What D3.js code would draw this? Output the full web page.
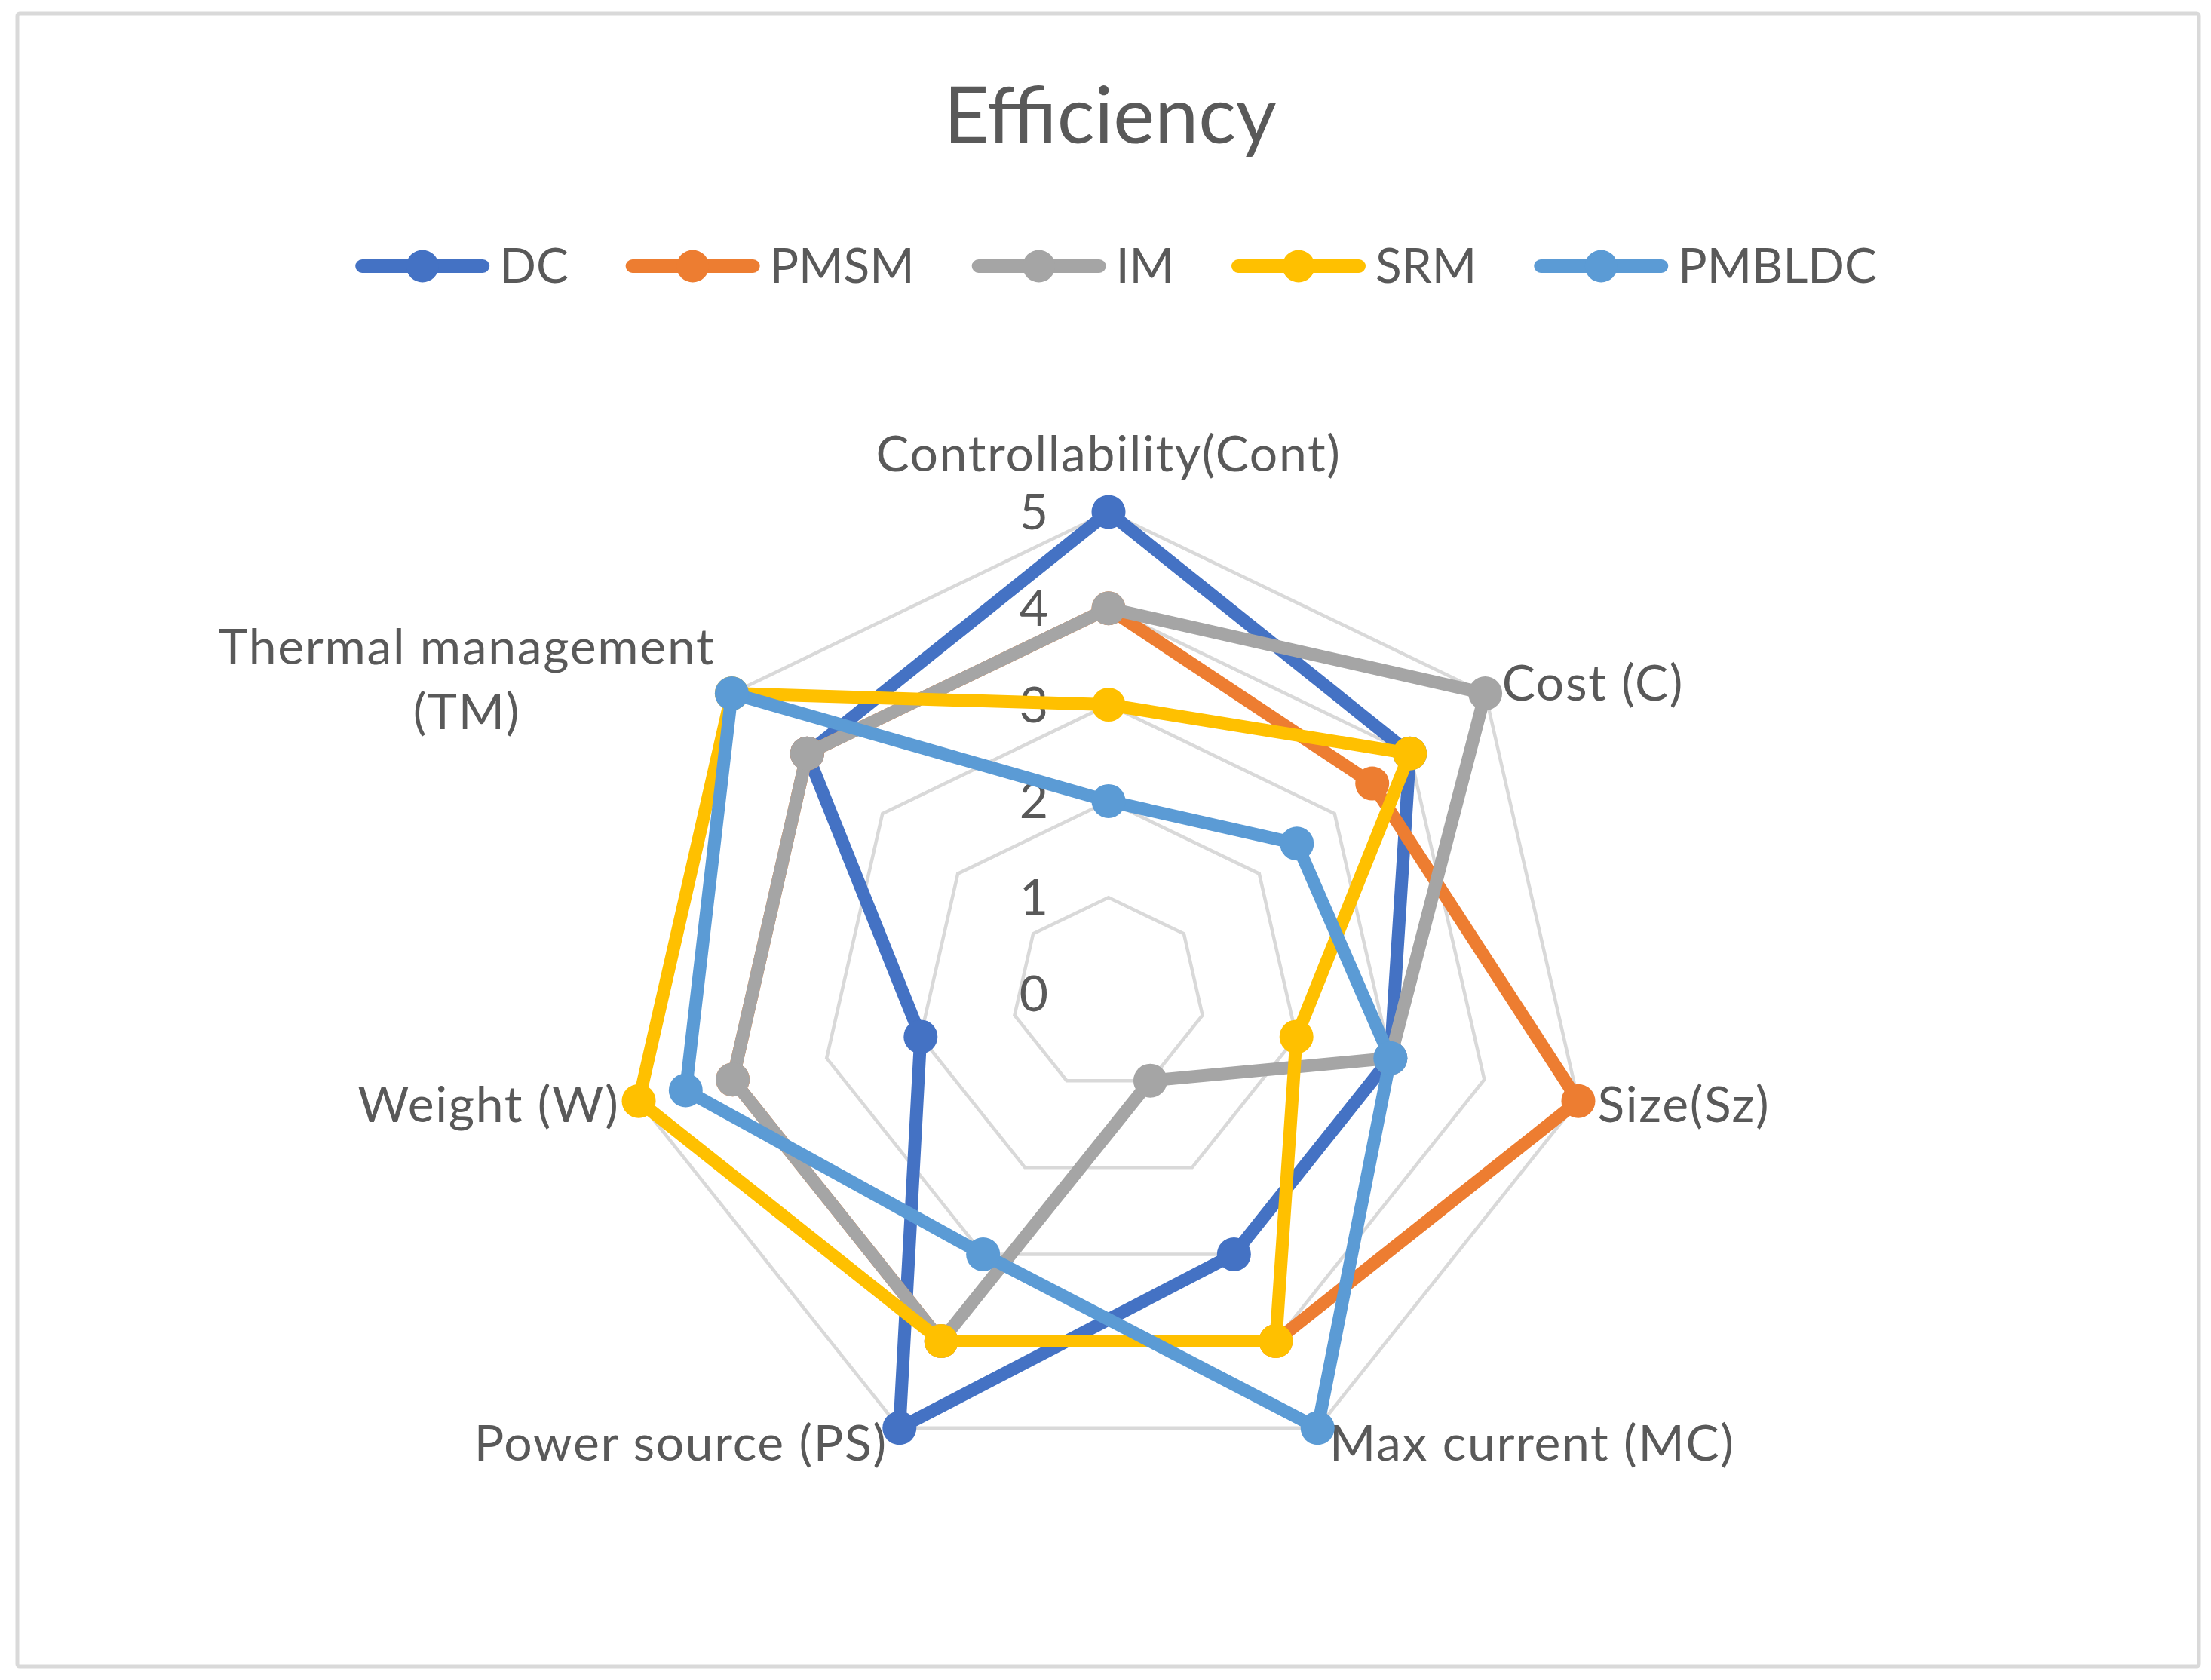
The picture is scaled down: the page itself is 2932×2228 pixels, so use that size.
<!DOCTYPE html>
<html>
<head>
<meta charset="utf-8">
<script src="https://cdn.jsdelivr.net/npm/d3@7"></script>
<style>
  html, body { margin: 0; padding: 0; background: #ffffff; }
  svg { display: block; }
  text { font-family: Lato, "Open Sans", sans-serif; fill: #595959; }
</style>
</head>
<body>
<script>
// ---- data ----
const categories = ["Controllability(Cont)", "Cost (C)", "Size(Sz)", "Max current (MC)", "Power source (PS)", "Weight (W)", "Thermal management (TM)"];
const seriesNames = ["DC", "PMSM", "IM", "SRM", "PMBLDC"];
const DC     = [5, 4,   3, 3, 5, 2,   4];
const PMSM   = [4, 3.5, 5, 4, 4, 4,   4];
const IM     = [4, 5,   3, 1, 4, 4,   4];
const SRM    = [3, 4,   2, 4, 4, 5,   5];
const PMBLDC = [2, 2.5, 3, 5, 3, 4.5, 5];
const tickValues = [0, 1, 2, 3, 4, 5];
const colors = ["#4472C4", "#ED7D31", "#A5A5A5", "#FFC000", "#5B9BD5"];
const title = "Efficiency";

const seriesValues = [DC, PMSM, IM, SRM, PMBLDC];

// ---- layout ----
const W = 2932, H = 2228;
const cx = 1470, cy = 1318, R = 639;
const labelSize = 64, axisLabelSize = 66, axisSpacing = 1.7, titleSize = 104;

const svg = d3.select("body").append("svg").attr("width", W).attr("height", H);

// chart border
svg.append("rect")
  .attr("x", 23).attr("y", 18).attr("width", 2916 - 23).attr("height", 2210 - 18)
  .attr("rx", 3).attr("fill", "#ffffff").attr("stroke", "#d9d9d9").attr("stroke-width", 5);

// title
svg.append("text").attr("x", 1472).attr("y", 190).attr("text-anchor", "middle")
  .style("font-size", titleSize + "px").text(title);

const r = d3.scaleLinear().domain([0, 5]).range([0, R]);
const step = 2 * Math.PI / categories.length;
const ang = i => i * step;

const g = svg.append("g").attr("transform", `translate(${cx},${cy})`);

// grid heptagons
const gridLine = d3.lineRadial().angle((d, i) => ang(i)).radius(d => r(d)).curve(d3.curveLinearClosed);
tickValues.filter(v => v > 0).forEach(v => {
  g.append("path").attr("d", gridLine(categories.map(() => v)))
    .attr("fill", "none").attr("stroke", "#d9d9d9").attr("stroke-width", 4.5);
});

// tick labels
tickValues.forEach(v => {
  g.append("text").attr("x", -80).attr("y", -r(v) + 23).attr("text-anchor", "end")
    .style("font-size", axisLabelSize + "px").text(v);
});

// category labels
categories.forEach((c, i) => {
  const a = ang(i);
  const vx = Math.sin(a) * R, vy = -Math.cos(a) * R;
  const t = g.append("text").style("font-size", axisLabelSize + "px")
    .style("letter-spacing", axisSpacing + "px");
  if (Math.abs(Math.sin(a)) < 1e-6) {
    t.attr("x", vx).attr("y", vy - 54).attr("text-anchor", "middle").text(c);
    return;
  }
  const right = Math.sin(a) > 0;
  const pad = 8 + 18 * Math.abs(Math.sin(a));
  const base = vy + 23 - 22 * Math.cos(a);
  t.text(c);
  const w = t.node().getComputedTextLength();
  if (w > 720) {
    const words = c.split(" ");
    let lines = [], cur = "";
    t.text("");
    words.forEach(wd => {
      const test = cur ? cur + " " + wd : wd;
      t.text(test);
      if (t.node().getComputedTextLength() > 720 && cur) { lines.push(cur); cur = wd; }
      else cur = test;
    });
    lines.push(cur);
    const tmp = lines.map(l => { t.text(l); return t.node().getComputedTextLength(); });
    t.text("");
    const maxW = d3.max(tmp);
    const xm = right ? vx + pad + maxW / 2 : vx - pad - maxW / 2;
    const lh = 86;
    const y0 = base - 5 - lh * (lines.length - 1) / 2;
    t.attr("text-anchor", "middle");
    lines.forEach((l, k) => {
      t.append("tspan").attr("x", xm).attr("y", y0 + k * lh).text(l);
    });
  } else {
    t.attr("x", right ? vx + pad : vx - pad).attr("y", base)
      .attr("text-anchor", right ? "start" : "end");
  }
});

// series
const line = d3.lineRadial().angle((d, i) => ang(i)).radius(d => r(d)).curve(d3.curveLinearClosed);
seriesValues.forEach((vals, s) => {
  const sg = g.append("g");
  sg.append("path").attr("d", line(vals)).attr("fill", "none")
    .attr("stroke", colors[s]).attr("stroke-width", 17).attr("stroke-linejoin", "round");
  sg.selectAll("circle").data(vals).join("circle")
    .attr("cx", (d, i) => Math.sin(ang(i)) * r(d))
    .attr("cy", (d, i) => -Math.cos(ang(i)) * r(d))
    .attr("r", 22.5).attr("fill", colors[s]);
});

// legend
const legY = 353, legCenter = 1480, gap = 76;
const lg = svg.append("g");
const items = seriesNames.map((n, s) => {
  const it = lg.append("g");
  const t = it.append("text").attr("x", 191).attr("y", legY + 22).style("font-size", labelSize + "px").text(n);
  const tw = t.node().getComputedTextLength();
  it.insert("line", "text").attr("x1", 9).attr("x2", 169).attr("y1", legY).attr("y2", legY)
    .attr("stroke", colors[s]).attr("stroke-width", 18).attr("stroke-linecap", "round");
  it.insert("circle", "text").attr("cx", 89).attr("cy", legY).attr("r", 21.5).attr("fill", colors[s]);
  return { it, w: 191 + tw };
});
const total = d3.sum(items, d => d.w) + gap * (items.length - 1);
let x = legCenter - total / 2;
items.forEach(d => { d.it.attr("transform", `translate(${x},0)`); x += d.w + gap; });
</script>
</body>
</html>
